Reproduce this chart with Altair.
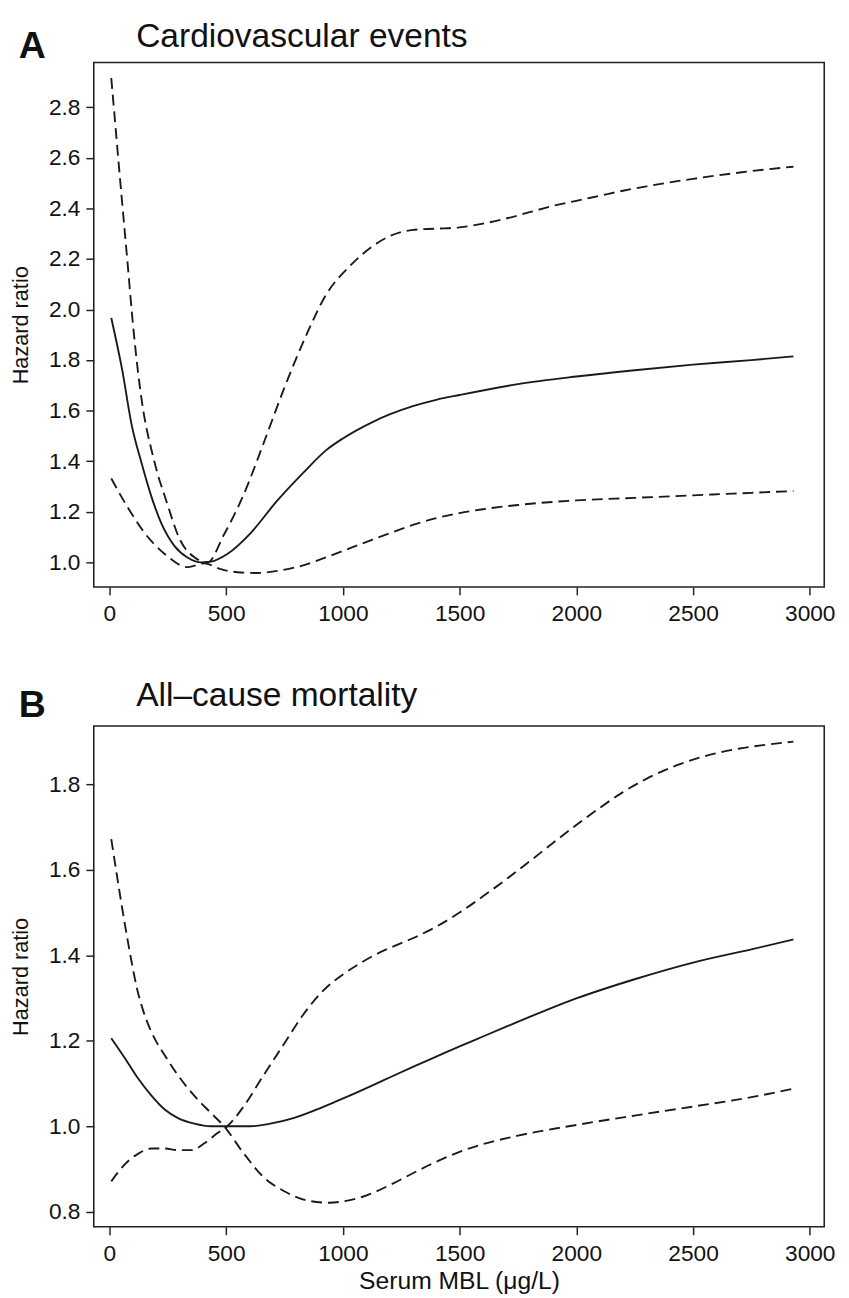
import altair as alt
import pandas as pd

FONT = "Liberation Sans, Arial, Helvetica, sans-serif"

# ---------------- Panel A: Cardiovascular events ----------------
A_est_x = [8, 54, 96, 138, 181, 223, 280, 336, 392, 435, 505, 604, 717, 830, 929, 1000, 1127,
           1200, 1300, 1400, 1500, 1750, 2000, 2250, 2500, 2750, 2930]
A_est_y = [1.967, 1.765, 1.541, 1.392, 1.257, 1.153, 1.063, 1.018, 1.0, 1.003, 1.033, 1.115, 1.242,
           1.354, 1.444, 1.49, 1.555, 1.585, 1.618, 1.643, 1.662, 1.705, 1.735, 1.76, 1.782, 1.80, 1.815]

A_hi_x = [8, 50, 82, 96, 131, 195, 245, 302, 364, 420, 491, 576, 660, 745, 844, 929, 1028, 1127,
          1200, 1300, 1400, 1500, 1600, 1700, 1800, 1900, 2000, 2100, 2200, 2300, 2400, 2500, 2600,
          2700, 2800, 2930]
A_hi_y = [2.916, 2.47, 2.14, 1.99, 1.69, 1.39, 1.24, 1.09, 1.02, 1.0, 1.11, 1.27, 1.47, 1.68, 1.90,
          2.06, 2.17, 2.25, 2.29, 2.315, 2.32, 2.325, 2.34, 2.36, 2.385, 2.41, 2.43, 2.45, 2.47, 2.487,
          2.503, 2.517, 2.53, 2.542, 2.553, 2.565]

A_lo_x = [8, 82, 152, 237, 336, 406, 477, 548, 632, 717, 830, 943, 1042, 1127, 1200, 1300, 1400,
          1500, 1600, 1750, 2000, 2250, 2500, 2750, 2930]
A_lo_y = [1.332, 1.212, 1.115, 1.033, 0.981, 0.996, 0.973, 0.961, 0.958, 0.966, 0.988, 1.025, 1.06,
          1.09, 1.115, 1.148, 1.175, 1.195, 1.21, 1.227, 1.245, 1.255, 1.265, 1.275, 1.282]

# ---------------- Panel B: All-cause mortality ----------------
B_est_x = [8, 68, 124, 181, 237, 294, 364, 435, 505, 604, 689, 788, 887, 971, 1056, 1141, 1200,
           1300, 1400, 1500, 1600, 1700, 1800, 1900, 2000, 2250, 2500, 2750, 2930]
B_est_y = [1.206, 1.158, 1.111, 1.071, 1.039, 1.019, 1.006, 1.0, 1.0, 1.0, 1.006, 1.019, 1.039,
           1.058, 1.078, 1.099, 1.114, 1.139, 1.163, 1.187, 1.21, 1.233, 1.256, 1.278, 1.299, 1.344,
           1.383, 1.414, 1.437]

B_d1_x = [8, 40, 68, 95, 117, 145, 174, 205, 237, 294, 364, 435, 491, 576, 660, 745, 858, 943, 1000,
          1085, 1141, 1200, 1300, 1400, 1500, 1600, 1750, 2000, 2250, 2500, 2750, 2930]
B_d1_y = [1.672, 1.56, 1.467, 1.385, 1.325, 1.27, 1.228, 1.194, 1.166, 1.119, 1.071, 1.031, 1.0,
          0.936, 0.881, 0.849, 0.825, 0.821, 0.824, 0.835, 0.847, 0.862, 0.89, 0.917, 0.94, 0.958,
          0.978, 1.003, 1.025, 1.046, 1.068, 1.088]

B_d2_x = [8, 68, 124, 181, 237, 294, 350, 407, 463, 505, 576, 660, 745, 830, 915, 1000, 1085, 1141,
          1200, 1300, 1400, 1500, 1600, 1700, 1800, 1900, 2000, 2100, 2200, 2300, 2400, 2500, 2600,
          2700, 2800, 2930]
B_d2_y = [0.871, 0.912, 0.936, 0.948, 0.948, 0.944, 0.944, 0.960, 0.984, 1.0, 1.047, 1.119, 1.19,
          1.261, 1.317, 1.355, 1.385, 1.402, 1.417, 1.44, 1.467, 1.50, 1.538, 1.578, 1.62, 1.663,
          1.705, 1.745, 1.782, 1.813, 1.838, 1.858, 1.873, 1.884, 1.892, 1.90]

X_TICKS = [0, 500, 1000, 1500, 2000, 2500, 3000]
A_TICKS = [1.0, 1.2, 1.4, 1.6, 1.8, 2.0, 2.2, 2.4, 2.6, 2.8]
B_TICKS = [0.8, 1.0, 1.2, 1.4, 1.6, 1.8]


def frame(series):
    rows = []
    for name, xs, ys in series:
        for xv, yv in zip(xs, ys):
            rows.append({"x": xv, "y": yv, "s": name})
    return pd.DataFrame(rows)


def panel(df, title, letter, ydomain, yticks, height, xtitle, title_y, letter_y):
    xenc = alt.X(
        "x:Q",
        scale=alt.Scale(domain=[-67, 3062], nice=False, zero=False),
        axis=alt.Axis(values=X_TICKS, format="d", labelPadding=8, titlePadding=4,
                      titleFontSize=25, title=xtitle if xtitle else None),
    )
    yenc = alt.Y(
        "y:Q",
        scale=alt.Scale(domain=ydomain, nice=False, zero=False),
        axis=alt.Axis(values=yticks, format=".1f", title="Hazard ratio",
                      labelPadding=6, titlePadding=16),
    )
    base = alt.Chart(df)
    solid = base.transform_filter(alt.datum.s == "est").mark_line(
        color="#1a1a1a", strokeWidth=1.9, interpolate="monotone"
    ).encode(x=xenc, y=yenc)
    dashed = base.transform_filter(alt.datum.s != "est").mark_line(
        color="#1a1a1a", strokeWidth=1.9, strokeDash=[11, 6], interpolate="monotone"
    ).encode(x=xenc, y=yenc, detail="s:N")
    lab = alt.Chart(pd.DataFrame({"t": [letter]})).mark_text(
        font=FONT, fontSize=38, fontWeight="bold", align="left", baseline="alphabetic",
        color="#111"
    ).encode(x=alt.value(-76), y=alt.value(letter_y), text="t:N")
    ttl = alt.Chart(pd.DataFrame({"t": [title]})).mark_text(
        font=FONT, fontSize=34, fontWeight="normal", align="left", baseline="alphabetic",
        color="#111"
    ).encode(x=alt.value(43), y=alt.value(title_y), text="t:N")
    return alt.layer(solid, dashed, lab, ttl).properties(width=741, height=height)


dfA = frame([("est", A_est_x, A_est_y), ("hi", A_hi_x, A_hi_y), ("lo", A_lo_x, A_lo_y)])
dfB = frame([("est", B_est_x, B_est_y), ("d1", B_d1_x, B_d1_y), ("d2", B_d2_x, B_d2_y)])

pA = panel(dfA, "Cardiovascular events", "A", [0.9025, 2.977], A_TICKS, 532, None, -16, -5)
pB = panel(dfB, "All\u2013cause mortality", "B", [0.7647, 1.9367], B_TICKS, 508,
           "Serum MBL (\u03bcg/L)", -20, -9)

chart = alt.vconcat(pA, pB, spacing=53).properties(
    padding={"left": 1, "top": 2, "right": 5, "bottom": 0},
    background="white",
).configure_view(
    stroke="#222", strokeWidth=1.6
).configure_axis(
    domain=False, grid=False, tickSize=8, tickColor="#222", tickWidth=1.5,
    labelFont=FONT, labelFontSize=23, labelColor="#111",
    titleFont=FONT, titleFontSize=22, titleFontWeight="normal", titleColor="#111",
)

chart.save("out.html", embed_options={"renderer": "svg", "actions": False})
